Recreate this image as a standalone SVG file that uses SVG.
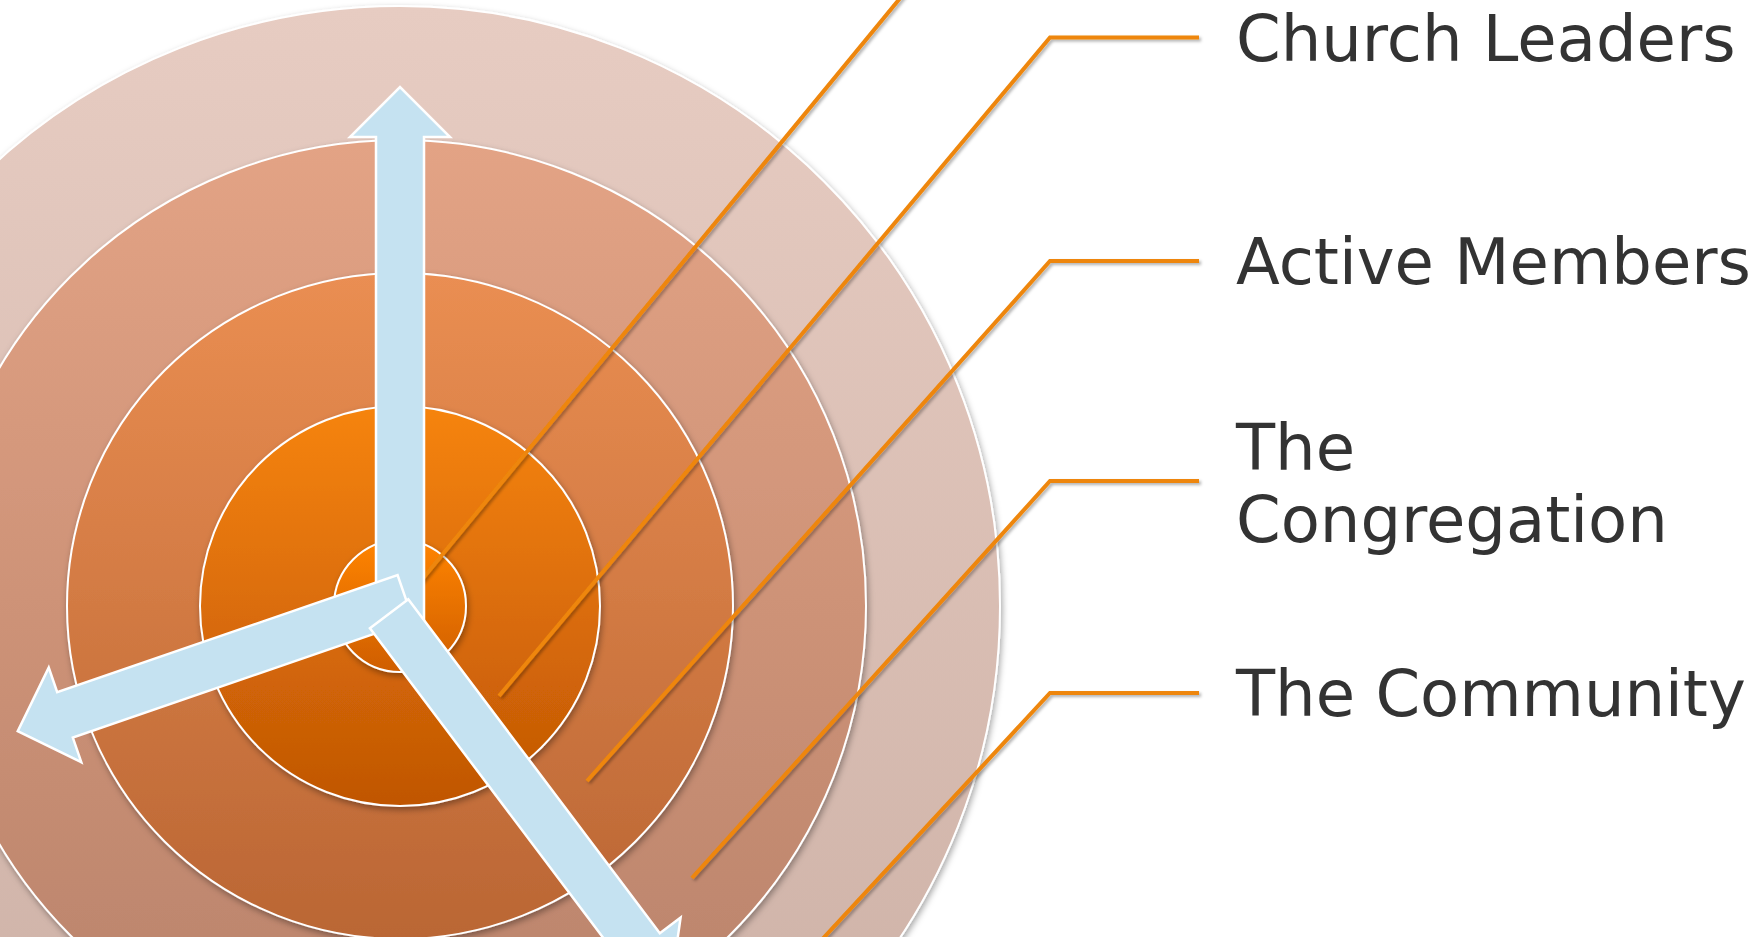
<svg xmlns="http://www.w3.org/2000/svg" width="1757" height="937" viewBox="0 0 1757 937">
  <defs>
    <linearGradient id="g5" x1="0" y1="0" x2="0" y2="1">
      <stop offset="0" stop-color="#E7CCC2"/>
      <stop offset="1" stop-color="#CBAFA4"/>
    </linearGradient>
    <linearGradient id="g4" x1="0" y1="0" x2="0" y2="1">
      <stop offset="0" stop-color="#E3A385"/>
      <stop offset="1" stop-color="#B8826A"/>
    </linearGradient>
    <linearGradient id="g3" x1="0" y1="0" x2="0" y2="1">
      <stop offset="0" stop-color="#EA8E52"/>
      <stop offset="1" stop-color="#BA6634"/>
    </linearGradient>
    <linearGradient id="g2" x1="0" y1="0" x2="0" y2="1">
      <stop offset="0" stop-color="#F6840E"/>
      <stop offset="1" stop-color="#C05604"/>
    </linearGradient>
    <linearGradient id="g1" x1="0" y1="0" x2="0" y2="1">
      <stop offset="0" stop-color="#FF8404"/>
      <stop offset="1" stop-color="#CF5E00"/>
    </linearGradient>
    <filter id="sh" x="-10%" y="-10%" width="120%" height="120%">
      <feDropShadow dx="1.5" dy="3" stdDeviation="3" flood-color="#000" flood-opacity="0.35"/>
    </filter>
    <filter id="lsh" x="-10%" y="-10%" width="120%" height="120%">
      <feDropShadow dx="2" dy="2" stdDeviation="1.5" flood-color="#000" flood-opacity="0.3"/>
    </filter>
  </defs>
  <style>
    .ring { stroke: #FFFFFF; stroke-width: 2; filter: url(#sh); }
    .lead { fill: none; stroke: #EE8609; stroke-width: 4; stroke-linejoin: miter; filter: url(#lsh); }
    .arrow { fill: #C5E2F1; stroke: #FFFFFF; stroke-width: 2.5; stroke-linejoin: miter; }
    .label { font-family: "DejaVu Sans", Verdana, sans-serif; font-size: 64px; fill: #333333; }
  </style>

  <g id="rings">
    <circle id="ring-community" class="ring" cx="400" cy="606" r="600" fill="url(#g5)"/>
    <circle id="ring-congregation" class="ring" cx="400" cy="606" r="466" fill="url(#g4)"/>
    <circle id="ring-active" class="ring" cx="400" cy="606" r="333" fill="url(#g3)"/>
    <circle id="ring-leaders" class="ring" cx="400" cy="606" r="200" fill="url(#g2)"/>
    <circle id="ring-core" class="ring" cx="400" cy="606" r="66" fill="url(#g1)"/>
  </g>

  <g id="connectors">
    <polyline class="lead" points="400,606 1050,-184 1199,-184"/>
    <polyline class="lead" points="499,696 1050,37.5 1199,37.5"/>
    <polyline class="lead" points="587,781 1050,261 1199,261"/>
    <polyline class="lead" points="692,878 1050,481 1199,481"/>
    <polyline class="lead" points="780,985 1050,693 1199,693"/>
  </g>

  <g id="arrows">
    <g id="arrow-up" transform="translate(400,620) rotate(-90)">
      <polygon class="arrow" points="0,-24 483,-24 483,-50 533,0 483,50 483,24 0,24"/>
    </g>
    <g id="arrow-left" transform="translate(405.4,597.7) rotate(161)">
      <polygon class="arrow" points="0,-24 360,-24 360,-50 410,0 360,50 360,24 0,24"/>
    </g>
    <g id="arrow-right" transform="translate(389.1,613.8) rotate(53)">
      <polygon class="arrow" points="0,-24 418,-24 418,-50 468,0 418,50 418,24 0,24"/>
    </g>
  </g>

  <g id="label-leaders"><text class="label" x="1236" y="61">Church Leaders</text></g>
  <g id="label-active"><text class="label" x="1236" y="284">Active Members</text></g>
  <g id="label-congregation"><text class="label" x="1236" y="470">The</text><text class="label" x="1236" y="542">Congregation</text></g>
  <g id="label-community"><text class="label" x="1236" y="716">The Community</text></g>
</svg>
